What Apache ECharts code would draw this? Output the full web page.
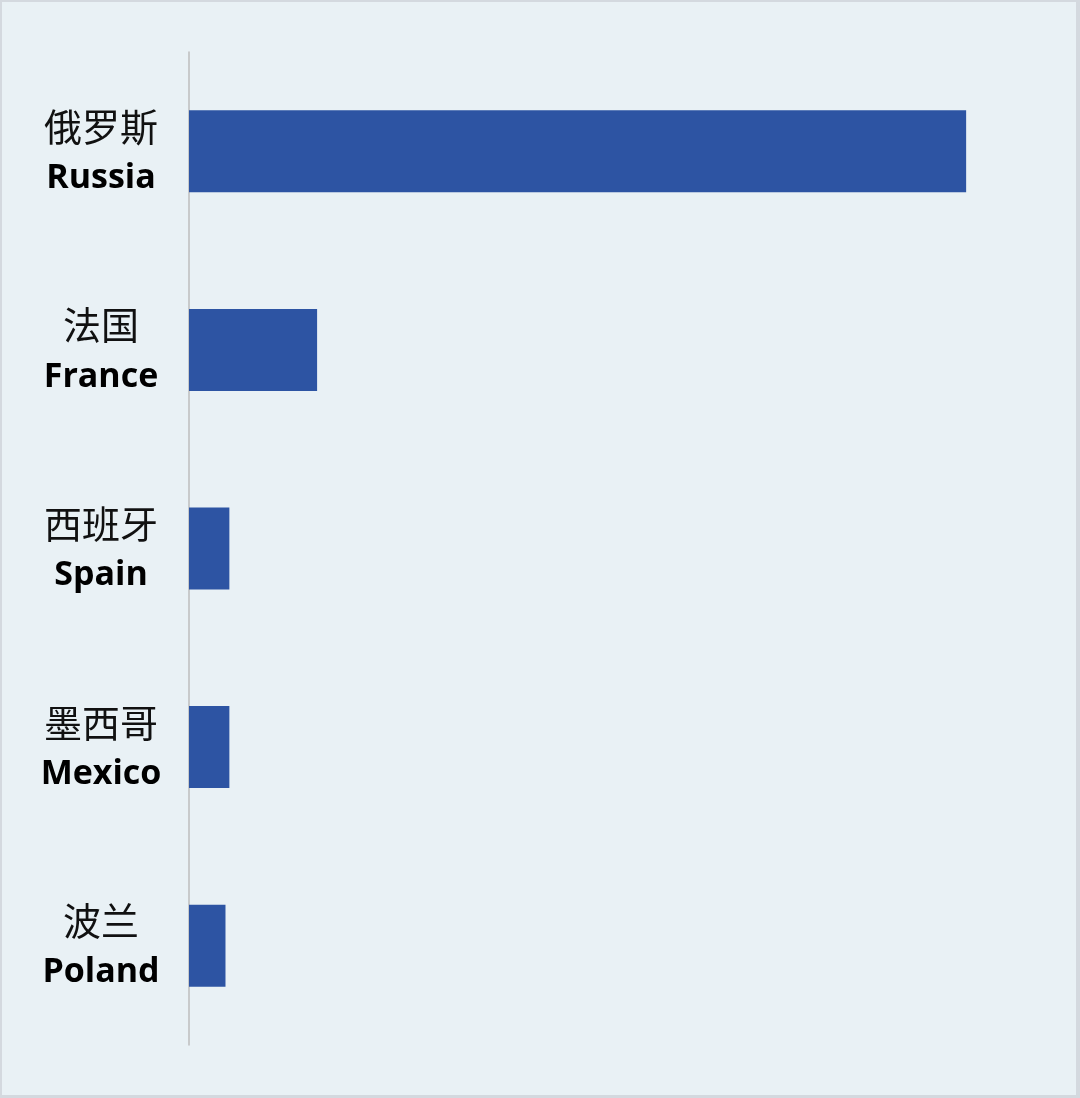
<!DOCTYPE html>
<html>
<head>
<meta charset="utf-8">
<script src="https://cdn.jsdelivr.net/npm/echarts@6/dist/echarts.min.js"></script>
<style>
  html, body { margin: 0; padding: 0; background: #E9F1F5; }
  #chart { width: 1080px; height: 1098px; box-sizing: border-box; border: 2px solid #D4D9DF; border-right-width: 4px; border-bottom-width: 3px; }
</style>
</head>
<body>
<div id="chart"></div>
<script>
const categoriesCn = ['俄罗斯', '法国', '西班牙', '墨西哥', '波兰'];
const categoriesEn = ['Russia', 'France', 'Spain', 'Mexico', 'Poland'];
const values = [100.1, 16.5, 5.2, 5.2, 4.7];

const chart = echarts.init(document.getElementById('chart'));
const cats = categoriesCn.map((c, i) => c + '|' + categoriesEn[i]);
chart.setOption({
  backgroundColor: '#E9F1F5',
  animation: false,
  grid: { left: 187, right: 33, top: 50, bottom: 50, containLabel: false },
  xAxis: {
    type: 'value', min: 0, max: 110,
    show: false,
    splitLine: { show: false }
  },
  yAxis: {
    type: 'category',
    inverse: true,
    data: cats,
    axisLine: { show: true, lineStyle: { color: '#BDBDBD', width: 1.5 } },
    axisTick: { show: false },
    axisLabel: {
      margin: 88,
      align: 'center',
      formatter: function (v) {
        const p = v.split('|');
        return '{cn|' + p[0] + '}\n{en|' + p[1] + '}';
      },
      rich: {
        cn: { fontFamily: '"Noto Sans CJK SC"', fontSize: 38, color: '#111', lineHeight: 54, align: 'center' },
        en: { fontFamily: '"Open Sans", sans-serif', fontWeight: 'bold', fontSize: 34, color: '#000', lineHeight: 50, align: 'center' }
      }
    }
  },
  series: [{
    type: 'bar',
    data: values,
    barWidth: 82,
    itemStyle: { color: '#2D54A3' }
  }]
});
</script>
</body>
</html>
